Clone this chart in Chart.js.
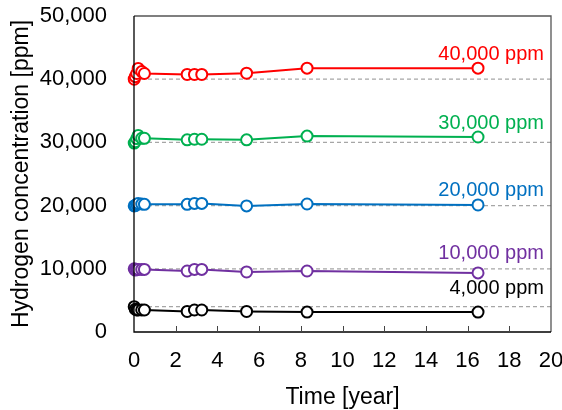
<!DOCTYPE html>
<html>
<head>
<meta charset="utf-8">
<script src="https://cdn.jsdelivr.net/npm/chart.js@4"></script>
<style>
  html, body { margin: 0; padding: 0; background: #fff; }
  #wrap { width: 562px; height: 410px; }
</style>
</head>
<body>
<div id="wrap"><canvas id="chart"></canvas></div>
<script>
// elapsed time for each measurement [year]
const years = [0.01, 0.06, 0.13, 0.2, 0.37, 0.5, 2.55, 2.9, 3.25, 5.4, 8.3, 16.5];

// measured hydrogen concentration [ppm]
const h40000 = [40000, 40400, 40900, 41700, 41200, 40900, 40750, 40750, 40750, 40950, 41750, 41750];
const h30000 = [29900, 30100, 30600, 31100, 30650, 30650, 30400, 30500, 30500, 30400, 31000, 30850];
const h20000 = [19950, 20000, 20200, 20350, 20250, 20200, 20200, 20350, 20350, 19950, 20250, 20100];
const h10000 = [10000, 9800, 9900, 9900, 9900, 9900, 9650, 9900, 9900, 9500, 9650, 9350];
const h4000 = [4000, 3600, 3500, 3500, 3500, 3480, 3250, 3480, 3480, 3250, 3150, 3150];

const initialLevels = [40000, 30000, 20000, 10000, 4000];
const seriesLabels = ["40,000 ppm", "30,000 ppm", "20,000 ppm", "10,000 ppm", "4,000 ppm"];
const seriesColors = ["#ff0000", "#00b050", "#0070c0", "#7030a0", "#000000"];
// where the series names sit, in ppm
const labelAt = [43850, 33050, 22450, 12500, 6900];

const allSeries = [h40000, h30000, h20000, h10000, h4000];

const FONT = "'Liberation Sans', Arial, sans-serif";
const datasets = [];

// dashed reference lines at the initial concentration
initialLevels.forEach(function (lvl) {
  datasets.push({
    data: [{ x: 0, y: lvl }, { x: 20, y: lvl }],
    borderColor: "#a6a6a6",
    borderWidth: 1.3,
    borderDash: [4, 3],
    pointRadius: 0,
    showLine: true,
    order: 10
  });
});

allSeries.forEach(function (vals, i) {
  datasets.push({
    label: seriesLabels[i],
    data: vals.map((v, k) => ({ x: years[k], y: v })),
    borderColor: seriesColors[i],
    backgroundColor: "#ffffff",
    borderWidth: 2,
    pointRadius: 5.5,
    pointBorderWidth: 2,
    pointBackgroundColor: "#ffffff",
    showLine: true,
    clip: false,
    order: 1
  });
});

// frame, inward x ticks and series names
const decorPlugin = {
  id: "decor",
  afterDatasetsDraw(chart) {
    const ctx = chart.ctx;
    const a = chart.chartArea;
    const xs = chart.scales.x, ys = chart.scales.y;
    ctx.save();
    ctx.lineWidth = 1.3;
    ctx.strokeStyle = "#555";
    ctx.beginPath();
    ctx.moveTo(a.left, a.top);
    ctx.lineTo(a.right, a.top);
    ctx.lineTo(a.right, a.bottom);
    ctx.stroke();
    ctx.strokeStyle = "#000";
    ctx.beginPath();
    ctx.moveTo(a.left, a.top);
    ctx.lineTo(a.left, a.bottom);
    ctx.lineTo(a.right, a.bottom);
    ctx.stroke();
    ctx.lineWidth = 1;
    ctx.strokeStyle = "#444";
    xs.ticks.forEach(function (t) {
      if (t.value <= 0 || t.value >= 20) return;
      const px = Math.round(xs.getPixelForValue(t.value)) + 0.5;
      ctx.beginPath();
      ctx.moveTo(px, a.bottom);
      ctx.lineTo(px, a.bottom - 6);
      ctx.stroke();
    });
    ctx.font = "20px " + FONT;
    ctx.textAlign = "right";
    ctx.textBaseline = "middle";
    seriesLabels.forEach(function (txt, i) {
      ctx.fillStyle = seriesColors[i];
      ctx.fillText(txt, a.right - 7, ys.getPixelForValue(labelAt[i]));
    });
    ctx.restore();
  }
};

new Chart(document.getElementById("chart"), {
  type: "scatter",
  data: { datasets: datasets },
  plugins: [decorPlugin],
  options: {
    responsive: true,
    maintainAspectRatio: false,
    animation: false,
    layout: { padding: { top: 16, right: 11, left: 0, bottom: 0 } },
    plugins: {
      legend: { display: false },
      tooltip: { enabled: false }
    },
    scales: {
      x: {
        type: "linear",
        min: 0,
        max: 20,
        afterFit: s => { s.height = 78; s.paddingLeft = 0; s.paddingRight = 0; },
        ticks: {
          stepSize: 2,
          color: "#000",
          padding: 16,
          font: { family: FONT, size: 22 }
        },
        grid: { display: false, drawTicks: false },
        border: { display: false },
        title: {
          display: true,
          text: "Time [year]",
          color: "#000",
          padding: { top: 0, bottom: -1 },
          font: { family: FONT, size: 23 }
        }
      },
      y: {
        min: 0,
        max: 50000,
        afterFit: s => { s.width = 134; s.paddingTop = 0; s.paddingBottom = 0; },
        ticks: {
          stepSize: 10000,
          color: "#000",
          padding: 27,
          callback: v => v.toLocaleString("en-US"),
          font: { family: FONT, size: 22 }
        },
        grid: { display: false, drawTicks: false },
        border: { display: false },
        title: {
          display: true,
          text: "Hydrogen concentration [ppm]",
          color: "#000",
          padding: { top: 8, bottom: 0 },
          font: { family: FONT, size: 23 }
        }
      }
    }
  }
});
</script>
</body>
</html>
